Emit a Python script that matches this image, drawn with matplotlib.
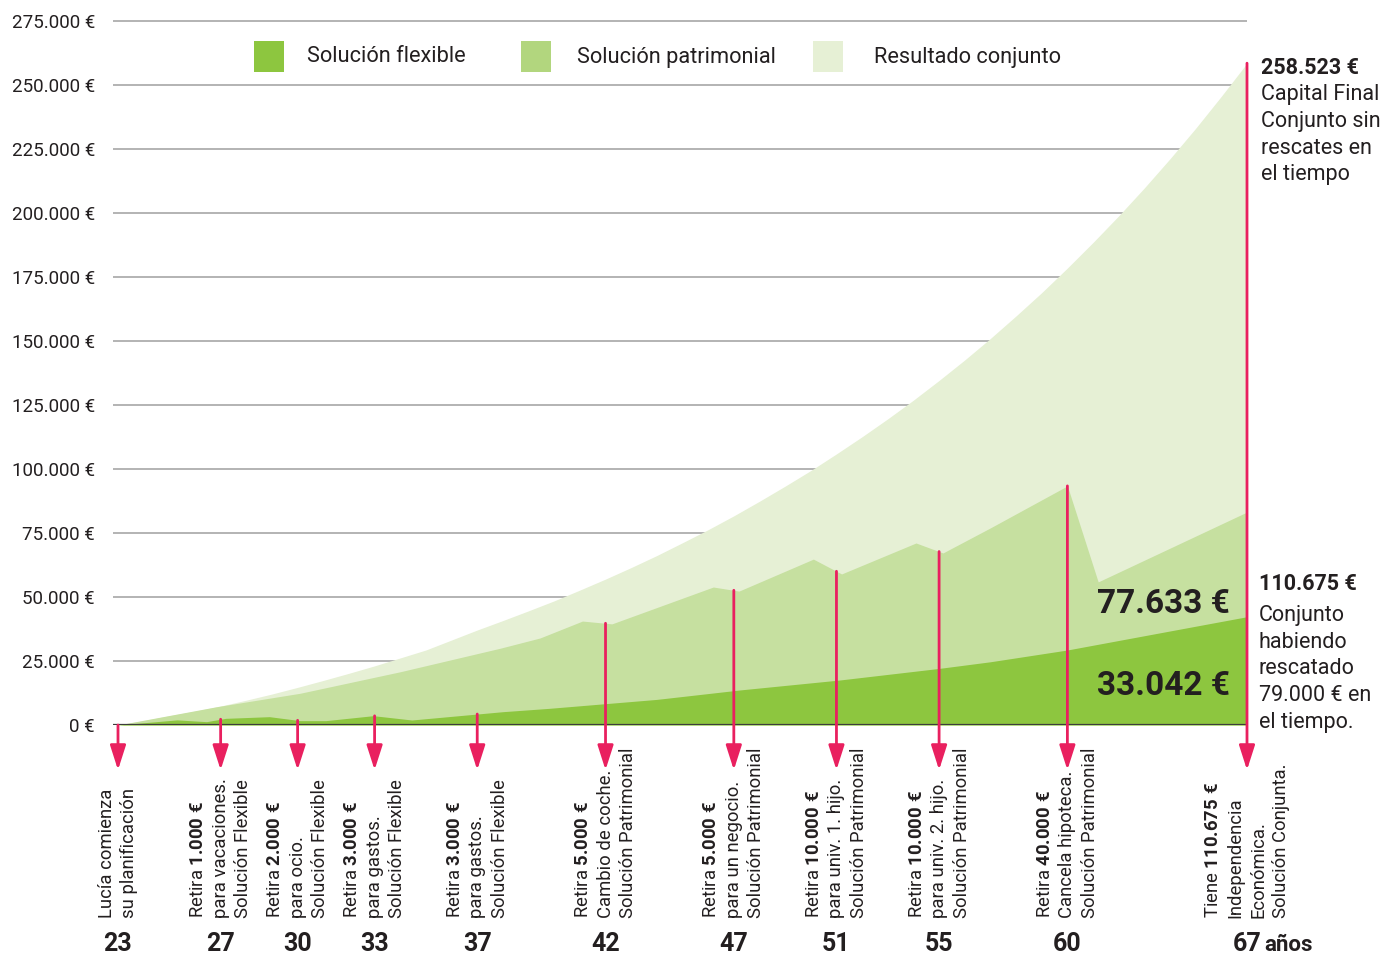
import numpy as np
import matplotlib
matplotlib.use("Agg")
import matplotlib.pyplot as plt
from matplotlib.patches import Rectangle
from matplotlib.transforms import offset_copy

plt.rcParams['font.family'] = ['Roboto', 'DejaVu Sans']
plt.rcParams['mathtext.fontset'] = 'custom'
plt.rcParams['mathtext.rm'] = 'Roboto'
plt.rcParams['mathtext.bf'] = 'Roboto:bold'
plt.rcParams['mathtext.it'] = 'Roboto:italic'

# ---------------- data ----------------
legend_labels = ["Solución flexible", "Solución patrimonial", "Resultado conjunto"]

# Resultado conjunto (capital without withdrawals), one value per age 23..67
age_total = list(range(23, 68))
total = [0, 1700, 3600, 5400, 7400, 9700, 12100, 14700, 17400, 20200, 23100, 26200,
         29300, 33200, 37100, 40800, 44600, 48500, 52700, 57000, 61500, 66200, 71200,
         76300, 81700, 87400, 93300, 99400, 105900, 112600, 119600, 126900, 134600,
         142600, 151000, 159800, 168900, 178500, 188500, 198900, 209800, 221200,
         233100, 245600, 258523]

# Solución patrimonial (upper edge, stacked on flexible)
age_pat = [23, 26.85, 30.1, 34.0, 37.9, 39.45, 41.1, 42.25, 46.2, 47.2, 50.1, 51.2,
           54.1, 55.15, 57.0, 60.0, 61.2, 67]
pat_top = [0, 7150, 12400, 20800, 30000, 34000, 40600, 39500, 53900, 52300, 64800,
           59000, 71100, 67200, 77000, 93400, 55900, 83200]

# Solución flexible
age_flex = [23, 25.3, 26.45, 27.2, 28.9, 30.1, 31.1, 32.95, 34.45, 38.0, 39.8, 44.0,
            47.25, 51.15, 55.0, 57.0, 60.0, 67]
flex = [0, 2000, 1300, 2600, 3250, 1700, 1700, 3640, 1950, 5200, 6500, 10000,
        13700, 17600, 22100, 24700, 29300, 42300]

yticks = list(range(0, 275001, 25000))

event_ages = [23, 27, 30, 33, 37, 42, 47, 51, 55, 60, 67]
event_series = [None, "flex", "flex", "flex", "flex", "pat", "pat", "pat", "pat", "pat", "total"]
event_lines = [
    ["Lucía comienza", "su planificación"],
    ["Retira $\\mathbf{1.000\\ €}$", "para vacaciones.", "Solución Flexible"],
    ["Retira $\\mathbf{2.000\\ €}$", "para ocio.", "Solución Flexible"],
    ["Retira $\\mathbf{3.000\\ €}$", "para gastos.", "Solución Flexible"],
    ["Retira $\\mathbf{3.000\\ €}$", "para gastos.", "Solución Flexible"],
    ["Retira $\\mathbf{5.000\\ €}$", "Cambio de coche.", "Solución Patrimonial"],
    ["Retira $\\mathbf{5.000\\ €}$", "para un negocio.", "Solución Patrimonial"],
    ["Retira $\\mathbf{10.000\\ €}$", "para univ. 1. hijo.", "Solución Patrimonial"],
    ["Retira $\\mathbf{10.000\\ €}$", "para univ. 2. hijo.", "Solución Patrimonial"],
    ["Retira $\\mathbf{40.000\\ €}$", "Cancela hipoteca.", "Solución Patrimonial"],
    ["Tiene $\\mathbf{110.675\\ €}$", "Independencia", "Económica.", "Solución Conjunta."],
]

final_flex = 33042
final_pat = 77633
final_joint = 110675
final_no_withdraw = 258523
total_withdrawn = 79000


def eur(v):
    return f"{v:,}".replace(",", ".") + " €"


# ---------------- style ----------------
C_DARK = '#8dc63f'
C_MED = '#c6e0a0'
C_MED_LEG = '#b2d67e'
C_LIGHT = '#e6f0d5'
C_PINK = '#e9205f'
C_TXT = '#231f20'
C_GRID = '#b3b3b3'

W, H = 1398, 955
fig = plt.figure(figsize=(W / 100, H / 100), dpi=100)

x_left_px, x_right_px = 113, 1247
y_zero_px = 725
px_per_val = 64 / 25000
ymax = 276500
top_px = y_zero_px - ymax * px_per_val
ax = fig.add_axes([x_left_px / W, 1 - y_zero_px / H,
                   (x_right_px - x_left_px) / W, (y_zero_px - top_px) / H])
px_per_year = (1247 - 118) / 44
ax.set_xlim(23 - (118 - x_left_px) / px_per_year, 67)
ax.set_ylim(0, ymax)

for s in ax.spines.values():
    s.set_visible(False)
ax.set_xticks([])
ax.set_yticks(yticks)
ax.set_yticklabels([eur(v) for v in yticks], fontsize=13.5, color=C_TXT)
ax.tick_params(axis='y', length=0, pad=13)

for v in yticks[1:]:
    ax.axhline(v, color=C_GRID, lw=1.4, zorder=0)

ax.fill_between(age_total, total, color=C_LIGHT, lw=0, zorder=1)
ax.fill_between(age_pat, pat_top, color=C_MED, lw=0, zorder=2)
ax.fill_between(age_flex, flex, color=C_DARK, lw=0, zorder=3)
ax.axhline(0, color='#3c3c3c', lw=1.6, zorder=5)

series_map = {"flex": (age_flex, flex), "pat": (age_pat, pat_top), "total": (age_total, total)}
tip_tr = offset_copy(ax.transData, fig=fig, x=0, y=-45, units='dots')

for age, ser, lines in zip(event_ages, event_series, event_lines):
    if ser is None:
        top = 0
    else:
        xs, ys = series_map[ser]
        top = float(np.interp(age, xs, ys))
    ax.annotate('', xy=(age, 0), xycoords=tip_tr, xytext=(age, top), textcoords='data',
                arrowprops=dict(arrowstyle='-|>,head_length=1.0,head_width=0.32',
                                color=C_PINK, lw=2.0, shrinkA=0, shrinkB=0,
                                mutation_scale=15),
                annotation_clip=False, zorder=6)
    n = len(lines)
    for i, ln in enumerate(lines):
        dx = (i - (n - 1) / 2) * 22.5
        ax.annotate(ln, xy=(age, 0), xytext=(dx, -193), textcoords='offset pixels',
                    rotation=90, ha='center', va='bottom', fontsize=13.3, color=C_TXT,
                    annotation_clip=False)
    ax.annotate(str(age), xy=(age, 0), xytext=(0, -226), textcoords='offset pixels',
                ha='center', va='baseline', fontsize=18, fontweight='bold', color=C_TXT,
                annotation_clip=False)
ax.annotate('años', xy=(67, 0), xytext=(17, -226), textcoords='offset pixels',
            ha='left', va='baseline', fontsize=16, fontweight='bold', color=C_TXT,
            annotation_clip=False)

# inner final values
ax.annotate(eur(final_pat), xy=(67, 0), xytext=(-150, 121), textcoords='offset pixels',
            ha='left', va='center', fontsize=24, fontweight='bold', color=C_TXT, zorder=7)
ax.annotate(eur(final_flex), xy=(67, 0), xytext=(-150, 39), textcoords='offset pixels',
            ha='left', va='center', fontsize=24, fontweight='bold', color=C_TXT, zorder=7)

# right annotations
ax.annotate(eur(final_no_withdraw), xy=(67, final_no_withdraw), xytext=(14, -5),
            textcoords='offset pixels', ha='left', va='center', fontsize=15.5,
            fontweight='bold', color=C_TXT, annotation_clip=False)
ax.annotate("Capital Final\nConjunto sin\nrescates en\nel tiempo", xy=(67, final_no_withdraw),
            xytext=(14, -21), textcoords='offset pixels', ha='left', va='top',
            fontsize=15.5, color=C_TXT, linespacing=1.36, annotation_clip=False)
ax.annotate(eur(final_joint), xy=(67, 0), xytext=(12, 141), textcoords='offset pixels',
            ha='left', va='center', fontsize=15.5, fontweight='bold', color=C_TXT,
            annotation_clip=False)
ax.annotate(f"Conjunto\nhabiendo\nrescatado\n{eur(total_withdrawn)} en\nel tiempo.",
            xy=(67, 0), xytext=(12, -8), textcoords='offset pixels', ha='left', va='bottom',
            fontsize=15.5, color=C_TXT, linespacing=1.36, annotation_clip=False)

# legend
leg_sq_x = [254, 521, 813]
leg_tx_x = [307, 577, 874]
leg_cols = [C_DARK, C_MED_LEG, C_LIGHT]
for sx, tx, col, lab in zip(leg_sq_x, leg_tx_x, leg_cols, legend_labels):
    fig.add_artist(Rectangle((sx / W, 1 - 72 / H), 30 / W, 31 / H, transform=fig.transFigure,
                             facecolor=col, edgecolor='none', zorder=10))
    fig.text(tx / W, 1 - 57 / H, lab, ha='left', va='center', fontsize=15.7, color=C_TXT,
             zorder=10)

fig.savefig('out.png', dpi=100, facecolor='white')
